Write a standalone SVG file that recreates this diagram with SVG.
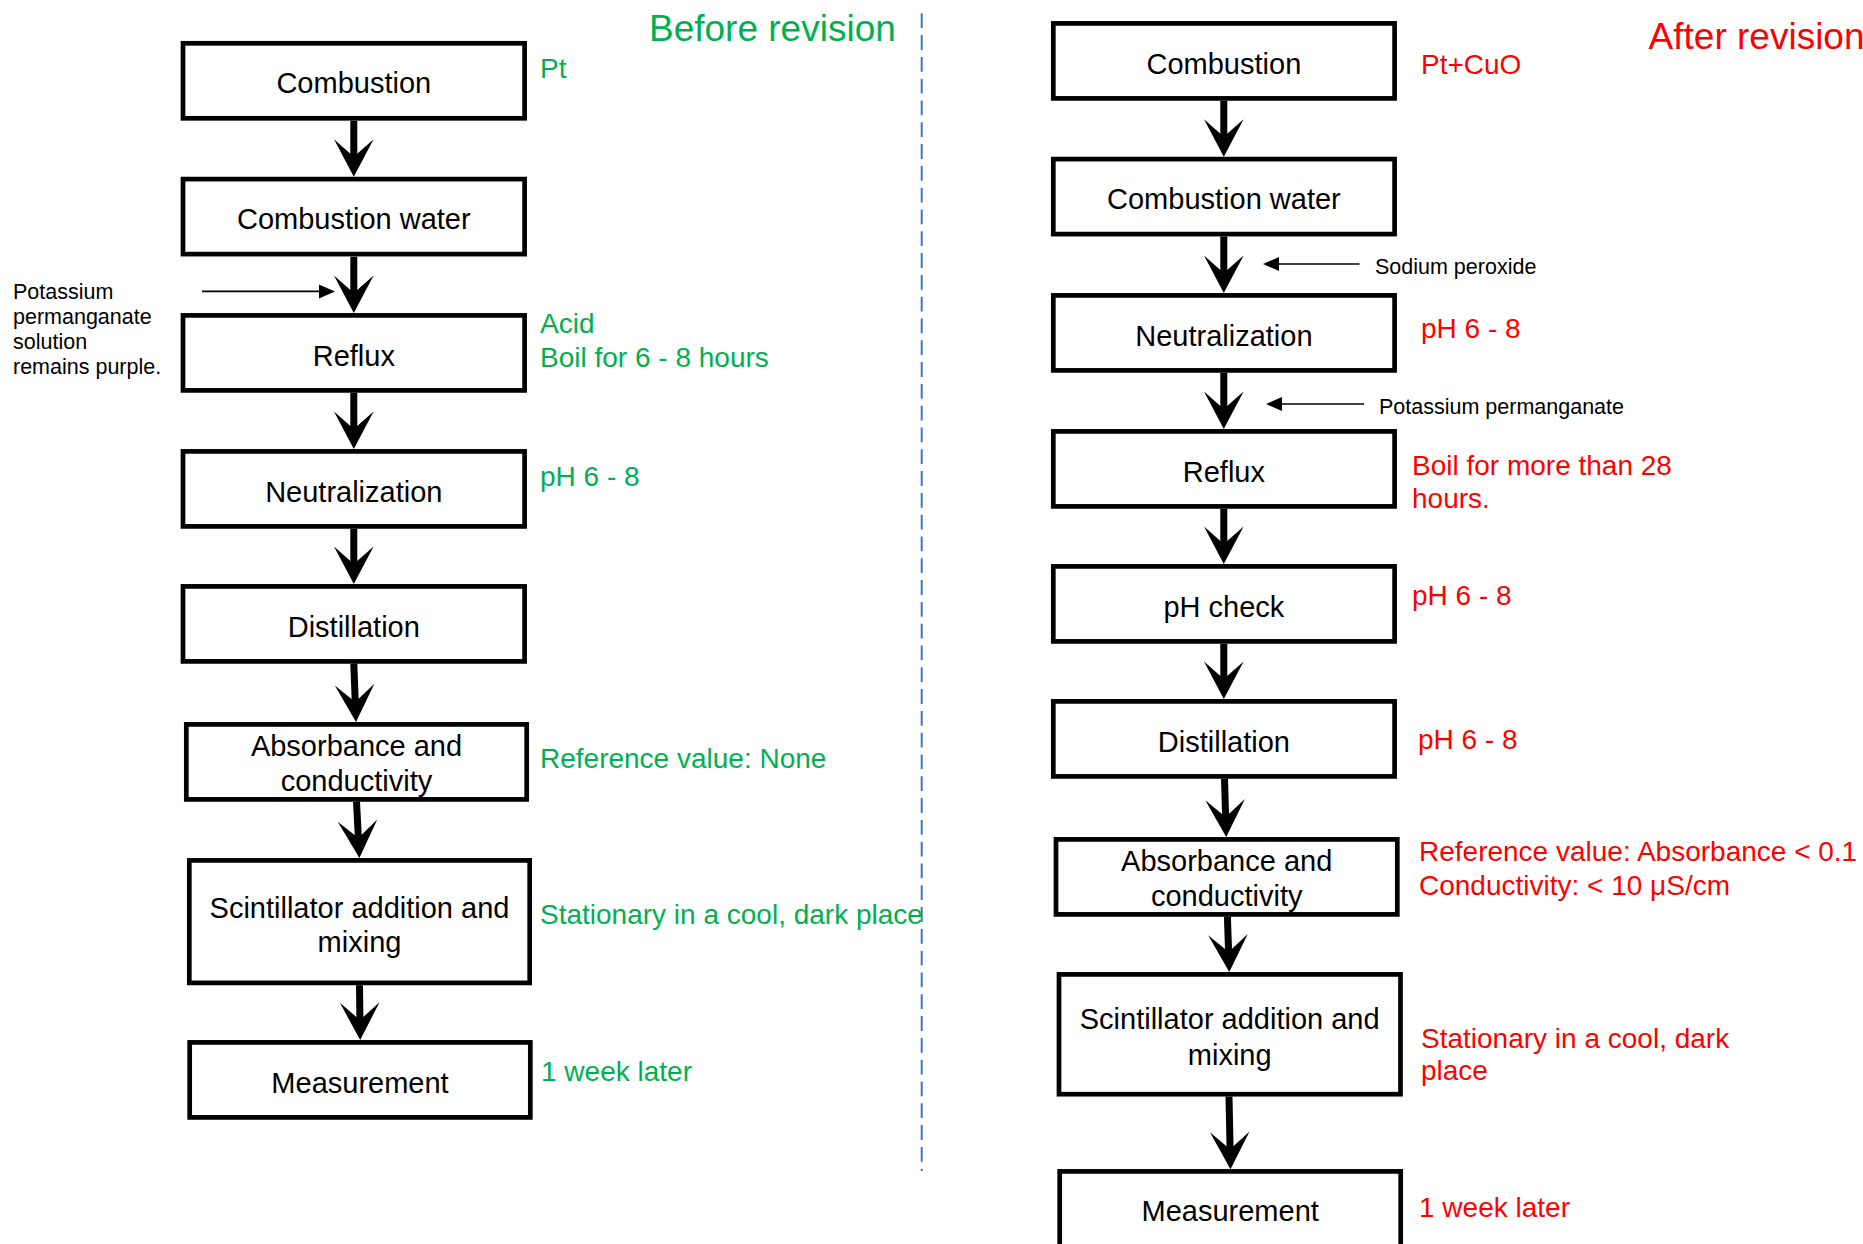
<svg xmlns="http://www.w3.org/2000/svg" width="1863" height="1244" viewBox="0 0 1863 1244">
<defs>
<style>
.box{fill:#fff;stroke:#000;stroke-width:4.7}
.nt{font-family:"Liberation Sans",Arial,sans-serif;font-size:29px;fill:#000;text-anchor:middle}
.g{font-family:"Liberation Sans",Arial,sans-serif;font-size:28px;fill:#00B050}
.r{font-family:"Liberation Sans",Arial,sans-serif;font-size:28px;fill:#FF0000}
.sm{font-family:"Liberation Sans",Arial,sans-serif;font-size:21.5px;fill:#000}
.title{font-family:"Liberation Sans",Arial,sans-serif;font-size:37px}
.flow{fill:none;stroke:#000;stroke-width:7;marker-end:url(#big)}
.thin{fill:none;stroke:#000;stroke-width:1.6;marker-end:url(#small)}
</style>
<marker id="big" markerUnits="userSpaceOnUse" viewBox="-25 -21 40 42" markerWidth="40" markerHeight="42" refX="0" refY="0" orient="auto" overflow="visible">
<path d="M14,0 L-23.4,-19.8 L-6,0 L-23.4,19.8 Z" fill="#000"/>
</marker>
<marker id="small" markerUnits="userSpaceOnUse" viewBox="-13 -8 18 16" markerWidth="18" markerHeight="16" refX="0" refY="0" orient="auto" overflow="visible">
<path d="M4,0 L-12,-7 L-12,7 Z" fill="#000"/>
</marker>
</defs>
<rect width="1863" height="1244" fill="#fff"/>

<!-- divider -->
<line x1="921.7" y1="13.3" x2="921.7" y2="1171" stroke="#4472C4" stroke-width="2" stroke-dasharray="14.8 7"/>

<text class="title" x="649" y="40.7" fill="#00B050">Before revision</text>
<text class="title" x="1648.6" y="49.4" fill="#FF0000">After revision</text>

<g id="connectors">
<line class="flow" x1="353.8" y1="120.7" x2="353.8" y2="162.7"/>
<line class="flow" x1="353.8" y1="256.7" x2="353.8" y2="299"/>
<line class="flow" x1="353.8" y1="392.7" x2="353.8" y2="435"/>
<line class="flow" x1="353.8" y1="528.7" x2="353.8" y2="570"/>
<line class="flow" x1="353.8" y1="663.7" x2="355.5" y2="708"/>
<line class="flow" x1="356.5" y1="801.7" x2="358.7" y2="844"/>
<line class="flow" x1="359.5" y1="985.3" x2="360" y2="1026"/>
<line class="thin" x1="202" y1="291.4" x2="331" y2="291.4"/>

<line class="flow" x1="1223.8" y1="100.7" x2="1223.8" y2="142.7"/>
<line class="flow" x1="1223.8" y1="236.4" x2="1223.8" y2="279"/>
<line class="flow" x1="1223.8" y1="372.7" x2="1223.8" y2="415"/>
<line class="flow" x1="1223.8" y1="508.7" x2="1223.8" y2="550"/>
<line class="flow" x1="1223.8" y1="643.7" x2="1223.8" y2="685"/>
<line class="flow" x1="1224.5" y1="778.7" x2="1225.8" y2="823"/>
<line class="flow" x1="1227.4" y1="916.7" x2="1228.8" y2="958"/>
<line class="flow" x1="1229" y1="1096.5" x2="1230.2" y2="1155.3"/>
<line class="thin" x1="1359.5" y1="264" x2="1267" y2="264"/>
<line class="thin" x1="1364" y1="404" x2="1270" y2="404"/>
</g>

<!-- Before revision nodes -->
<g id="b-combustion"><rect class="box" x="183" y="43.3" width="341.6" height="75"/><text class="nt" x="353.8" y="93.3">Combustion</text></g>
<g id="b-combustion-water"><rect class="box" x="183" y="179.1" width="341.6" height="75"/><text class="nt" x="353.8" y="229">Combustion water</text></g>
<g id="b-reflux"><rect class="box" x="183" y="315.4" width="341.6" height="75"/><text class="nt" x="353.8" y="365.5">Reflux</text></g>
<g id="b-neutralization"><rect class="box" x="183" y="451.4" width="341.6" height="75"/><text class="nt" x="353.8" y="501.6">Neutralization</text></g>
<g id="b-distillation"><rect class="box" x="183" y="586.4" width="341.6" height="75"/><text class="nt" x="353.8" y="636.5">Distillation</text></g>
<g id="b-absorbance"><rect class="box" x="186.3" y="724.4" width="340.4" height="75"/><text class="nt" x="356.5" y="756">Absorbance and</text><text class="nt" x="356.5" y="790.8">conductivity</text></g>
<g id="b-scintillator"><rect class="box" x="189.3" y="860.4" width="340.4" height="122.5"/><text class="nt" x="359.5" y="917.6">Scintillator addition and</text><text class="nt" x="359.5" y="952">mixing</text></g>
<g id="b-measurement"><rect class="box" x="189.7" y="1042.4" width="340.6" height="75"/><text class="nt" x="360" y="1092.8">Measurement</text></g>

<g id="b-notes">
<text class="g" x="540" y="78.3">Pt</text>
<text class="g" x="540" y="333">Acid</text>
<text class="g" x="540" y="367">Boil for 6 - 8 hours</text>
<text class="g" x="540" y="485.6">pH 6 - 8</text>
<text class="g" x="540" y="768">Reference value: None</text>
<text class="g" x="540" y="924">Stationary in a cool, dark place</text>
<text class="g" x="541" y="1081">1 week later</text>
<text class="sm" x="13" y="298.5">Potassium</text>
<text class="sm" x="13" y="323.6">permanganate</text>
<text class="sm" x="13" y="348.7">solution</text>
<text class="sm" x="13" y="373.8">remains purple.</text>
</g>

<!-- After revision nodes -->
<g id="a-combustion"><rect class="box" x="1053.3" y="23.4" width="341.3" height="75"/><text class="nt" x="1223.9" y="73.5">Combustion</text></g>
<g id="a-combustion-water"><rect class="box" x="1053.3" y="159.1" width="341.3" height="75"/><text class="nt" x="1223.9" y="209.2">Combustion water</text></g>
<g id="a-neutralization"><rect class="box" x="1053.3" y="295.4" width="341.3" height="75"/><text class="nt" x="1223.9" y="345.5">Neutralization</text></g>
<g id="a-reflux"><rect class="box" x="1053.3" y="431.4" width="341.3" height="75"/><text class="nt" x="1223.9" y="481.5">Reflux</text></g>
<g id="a-ph-check"><rect class="box" x="1053.3" y="566.4" width="341.3" height="75"/><text class="nt" x="1223.9" y="616.5">pH check</text></g>
<g id="a-distillation"><rect class="box" x="1053.3" y="701.4" width="341.3" height="75"/><text class="nt" x="1223.9" y="751.5">Distillation</text></g>
<g id="a-absorbance"><rect class="box" x="1056" y="839.4" width="341.3" height="75"/><text class="nt" x="1226.7" y="871.3">Absorbance and</text><text class="nt" x="1226.7" y="905.5">conductivity</text></g>
<g id="a-scintillator"><rect class="box" x="1059" y="974.4" width="341.5" height="119.8"/><text class="nt" x="1229.7" y="1029">Scintillator addition and</text><text class="nt" x="1229.7" y="1065">mixing</text></g>
<g id="a-measurement"><rect class="box" x="1059.7" y="1171.4" width="341" height="75"/><text class="nt" x="1230.2" y="1221">Measurement</text></g>

<g id="a-notes">
<text class="r" x="1421" y="74.3">Pt+CuO</text>
<text class="sm" x="1375" y="274">Sodium peroxide</text>
<text class="r" x="1421" y="338">pH 6 - 8</text>
<text class="sm" x="1379" y="414.4">Potassium permanganate</text>
<text class="r" x="1412" y="474.5">Boil for more than 28</text>
<text class="r" x="1412" y="508">hours.</text>
<text class="r" x="1412" y="605">pH 6 - 8</text>
<text class="r" x="1418" y="749">pH 6 - 8</text>
<text class="r" x="1419" y="861">Reference value: Absorbance &lt; 0.1</text>
<text class="r" x="1419" y="894.6">Conductivity: &lt; 10 μS/cm</text>
<text class="r" x="1421" y="1048">Stationary in a cool, dark</text>
<text class="r" x="1421" y="1080">place</text>
<text class="r" x="1419" y="1217">1 week later</text>
</g>
</svg>
